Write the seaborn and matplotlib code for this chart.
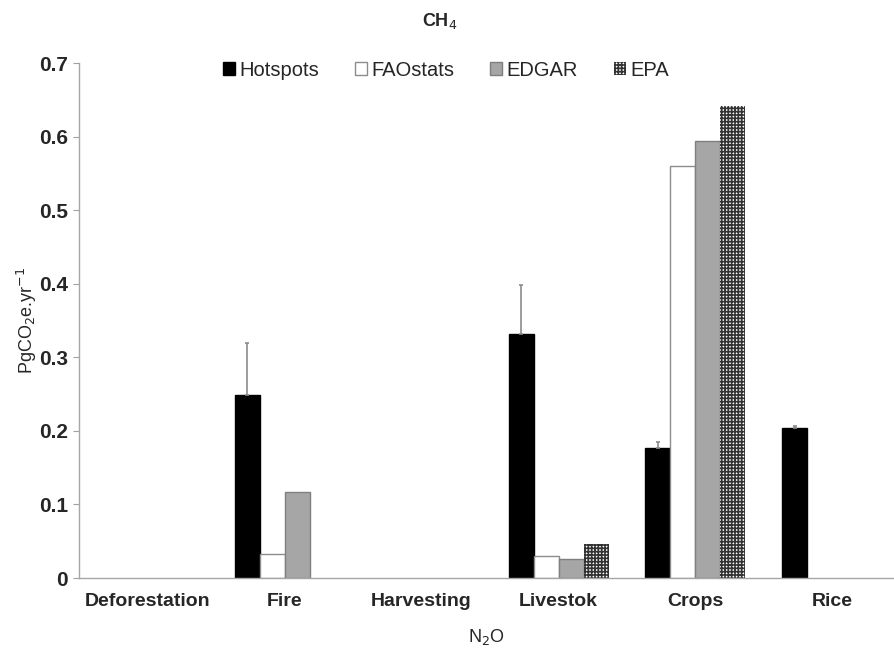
import matplotlib
matplotlib.use("Agg")
import matplotlib.pyplot as plt
import matplotlib.patches as mpatches
import numpy as np
import pandas as pd
import seaborn as sns

# values (PgCO2e per year), NaN = no bar
categories = ["Deforestation", "Fire", "Harvesting", "Livestok", "Crops", "Rice"]
sources = ["Hotspots", "FAOstats", "EDGAR", "EPA"]
hotspots = [np.nan, 0.249, np.nan, 0.332, 0.177, 0.204]
hotspots_err = [np.nan, 0.071, np.nan, 0.066, 0.008, 0.002]
faostats = [np.nan, 0.033, np.nan, 0.030, 0.560, np.nan]
edgar = [np.nan, 0.117, np.nan, 0.026, 0.594, np.nan]
epa = [np.nan, np.nan, np.nan, 0.046, 0.642, np.nan]

series = {"Hotspots": hotspots, "FAOstats": faostats, "EDGAR": edgar, "EPA": epa}
rows = []
for src in sources:
    for cat, v in zip(categories, series[src]):
        rows.append({"category": cat, "source": src, "value": v})
df = pd.DataFrame(rows).dropna()

sns.set_style("white")
plt.rcParams["font.family"] = ["Liberation Sans", "DejaVu Sans"]
plt.rcParams["hatch.linewidth"] = 1.2

face = {"Hotspots": "black", "FAOstats": "white", "EDGAR": "#a6a6a6", "EPA": "white"}
edge = {"Hotspots": "black", "FAOstats": "#8c8c8c", "EDGAR": "#7f7f7f", "EPA": "#333333"}
epa_hatch = "+++++"

fig = plt.figure(figsize=(8.94, 6.59), dpi=100)
ax = fig.add_axes([0.0884, 0.1229, 0.9116, 0.7815])

sns.barplot(data=df, x="category", y="value", hue="source", order=categories,
            hue_order=sources, palette=face, width=0.73, gap=0, errorbar=None,
            legend=False, ax=ax)

for cont, src in zip(ax.containers, sources):
    for p in cont.patches:
        p.set_edgecolor(edge[src])
        p.set_linewidth(1.0)
        if src == "EPA":
            p.set_hatch(epa_hatch)
            p.set_linewidth(0)

# error bars on hotspots (upper only)
hot_cats = [c for c, v in zip(categories, hotspots) if not np.isnan(v)]
for p, cat in zip(ax.containers[0].patches, hot_cats):
    i = categories.index(cat)
    xc = p.get_x() + p.get_width() / 2
    ax.errorbar(xc, p.get_height(), yerr=[[0], [hotspots_err[i]]], fmt="none",
                ecolor="#8c8c8c", elinewidth=1.2, capsize=1.5, capthick=1.2)

ax.set_ylim(0, 0.7)
ax.set_xlim(-0.5, 5.449)
ax.set_yticks(np.arange(0, 0.71, 0.1))
ax.set_yticklabels(["0"] + [f"{t:.1f}" for t in np.arange(0.1, 0.71, 0.1)],
                   fontsize=15, fontweight="bold")
ax.set_xticks(range(len(categories)))
ax.set_xticklabels(categories, fontsize=14, fontweight="bold")
ax.set_xticks(np.arange(0.5, len(categories) - 0.5, 1), minor=True)
ax.tick_params(axis="x", which="major", length=0, pad=11)
ax.tick_params(axis="x", which="minor", length=5, color="#a0a0a0", direction="out")
ax.tick_params(axis="y", length=4, color="#a0a0a0", direction="out", left=True, pad=4)

for s in ["top", "right"]:
    ax.spines[s].set_visible(False)
for s in ["left", "bottom"]:
    ax.spines[s].set_color("#a6a6a6")
    ax.spines[s].set_linewidth(1.0)

ax.set_xlabel("N$_2$O", fontsize=13, labelpad=12)
ax.set_ylabel("PgCO$_2$e.yr$^{-1}$", fontsize=13, labelpad=0)
fig.text(0.492, 0.968, "CH$_4$", ha="center", va="center", fontsize=13,
         fontweight="bold")

handles = [mpatches.Patch(facecolor=face[s], edgecolor=edge[s],
                          hatch=epa_hatch if s == "EPA" else None,
                          linewidth=0 if s == "EPA" else 1.0) for s in sources]
ax.legend(handles, sources, loc="center", bbox_to_anchor=(0.45, 0.986), ncol=4,
          frameon=False, fontsize=14.5, handlelength=0.6, handleheight=0.6,
          handletextpad=0.2, columnspacing=1.8)

fig.savefig("out.png", dpi=100)
